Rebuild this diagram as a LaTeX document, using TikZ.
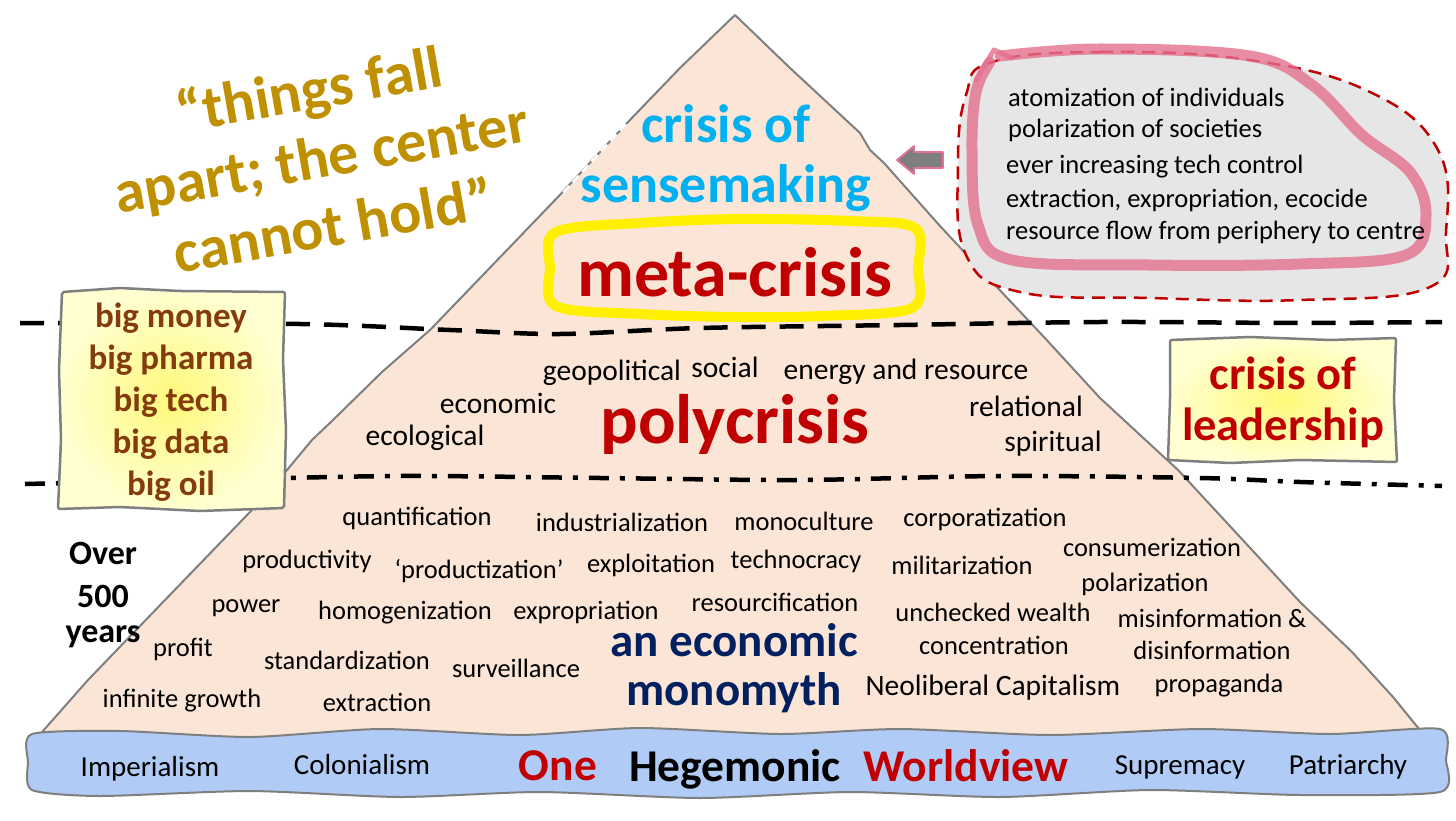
\documentclass[tikz,border=0pt]{standalone}
\usepackage{fontspec}
\setmainfont{Carlito}
\definecolor{gold}{HTML}{BF9000}
\definecolor{cyanT}{HTML}{00B0F0}
\definecolor{dred}{HTML}{C00000}
\definecolor{navy}{HTML}{002060}
\definecolor{brownT}{HTML}{843C0C}
\definecolor{peach}{HTML}{FBE5D6}
\definecolor{bandblue}{HTML}{B0CCF6}
\definecolor{cgray}{HTML}{E7E6E6}
\definecolor{pinkS}{HTML}{E4718F}
\definecolor{outl}{HTML}{7F7F7F}
\definecolor{yelIn}{HTML}{FFF97A}
\definecolor{yelOut}{HTML}{FFFFD2}
\definecolor{hl}{HTML}{FFF000}
\begin{document}
\begin{tikzpicture}[x=1pt,y=-1pt,
  wd/.style={font=\fontsize{26.5}{30}\selectfont, inner sep=0},
  pw/.style={font=\fontsize{29.5}{32}\selectfont, inner sep=0},
  cl/.style={font=\fontsize{26.5}{28}\selectfont, anchor=west, inner sep=0},
  bw/.style={font=\fontsize{29}{32}\selectfont, inner sep=0, anchor=base},
  bigbox/.style={font=\bfseries\fontsize{35}{38}\selectfont, text=brownT, inner sep=0},
  lead/.style={font=\bfseries\fontsize{46.5}{48}\selectfont, text=dred, inner sep=0},
  yrs/.style={font=\bfseries\fontsize{34}{38}\selectfont, inner sep=0},
  hw/.style={font=\bfseries\fontsize{45.5}{50}\selectfont, inner sep=0, anchor=base},
  eco/.style={font=\bfseries\fontsize{47}{50}\selectfont, text=navy, inner sep=0},
  sense/.style={font=\bfseries\fontsize{54}{58}\selectfont, text=cyanT, inner sep=0},
  huge/.style={font=\bfseries\fontsize{70}{74}\selectfont, text=dred, inner sep=0},
  sepline/.style={line width=4.5pt, black},
  edge/.style={draw=outl, line width=2pt, line join=round},
  yellowbox/.style={draw=outl, line width=2.5pt, inner color=yelIn, outer color=yelOut, rounded corners=2pt}
]
\useasboundingbox (0,0) rectangle (1456,821);
\fill[white] (0,0) rectangle (1456,821);

% pyramid
\filldraw[edge, fill=peach] (735,15) -- (790,68) -- (860,133) -- (870,150) -- (884,163)
  -- (940,226) -- (995,285) -- (1043,336) -- (1100,398) -- (1178,470) -- (1240,537)
  -- (1300,602) -- (1352,652) -- (1393,697) -- (1428,740) -- (35,740)
  -- (88,680) -- (165,600) -- (250,512) -- (287,470) -- (312,440) -- (333,420)
  -- (382,372) -- (430,330) -- (482,276) -- (557,198) -- (600,152) -- (628,122)
  -- (680,68) -- cycle;
\draw[white, line width=2.5pt, dash pattern=on 9pt off 5pt] (626,124) -- (560,196);

% separator lines
\draw[sepline, dash pattern=on 24pt off 14pt]
  plot[smooth] coordinates {(20,323) (300,324) (450,330) (560,334) (700,328) (900,325) (1100,322) (1300,323) (1442,322)};
\draw[sepline, dash pattern=on 20pt off 11pt on 5pt off 11pt]
  plot[smooth] coordinates {(25,484) (200,480) (400,476) (600,478) (800,480) (1000,476) (1200,478) (1300,482) (1442,486)};

% left box
\shade[yellowbox] (62,292) -- (120,288) -- (180,291) -- (285,292) -- (283,360) -- (286,430) -- (284,508)
  -- (200,511) -- (120,507) -- (58,509) -- (61,440) -- (59,370) -- cycle;
\node[bigbox] (bm) at (171,318) {big money};
\node[bigbox] (bp) at (171,360) {big pharma};
\node[bigbox] (bt) at (171,402) {big tech};
\node[bigbox] (bd) at (171,444) {big data};
\node[bigbox] (bo) at (171,486) {big oil};

% right box
\shade[yellowbox] (1170,340) -- (1250,337) -- (1330,340) -- (1396,338) -- (1394,400) -- (1397,462)
  -- (1300,460) -- (1230,463) -- (1168,460) -- (1170,400) -- cycle;
\node[lead] (lc) at (1283,373) {crisis of};
\node[lead] (ll) at (1283,428) {leadership};

% callout
\draw[dred, line width=2.5pt, fill=cgray, dash pattern=on 13pt off 8pt]
  plot[smooth cycle, tension=0.7] coordinates {(992,62) (1100,52) (1250,60) (1370,92) (1438,150) (1446,232) (1430,287) (1300,300) (1150,298) (1020,292) (966,255) (958,165) (966,95)};
\draw[pinkS, line width=11pt, opacity=0.8, line cap=round, line join=round]
  plot[smooth, tension=0.6] coordinates {(1000,56) (1100,49) (1250,56) (1312,85) (1362,135) (1410,172) (1426,215) (1406,255) (1300,264) (1150,265) (1012,260) (978,225) (972,150) (976,92) (990,62)};
\draw[pinkS, line width=5pt, opacity=0.8, line cap=round, line join=round] (976,80) -- (994,50) -- (1012,58);
\node[cl] (c1) at (1008,97) {atomization of individuals};
\node[cl] (c2) at (1008,130) {polarization of societies};
\node[cl] (c3) at (1006,167) {ever increasing tech control};
\node[cl] (c4) at (1006,200) {extraction, expropriation, ecocide};
\node[cl] (c5) at (1006,232) {resource flow from periphery to centre};
\filldraw[fill=outl, draw=pinkS, line width=1.8pt, line join=round]
  (897,160) -- (914,146) -- (914,152) -- (943,152) -- (943,168) -- (914,168) -- (914,174) -- cycle;

% quote
\node[font=\bfseries\fontsize{60}{69}\selectfont, text=gold, align=center, rotate=10, inner sep=0] (quote) at (321,156)
  {“things fall\\apart; the center\\cannot hold”};

% top of pyramid
\node[sense] (cs1) at (726,124) {crisis of};
\node[sense] (cs2) at (726,188) {sensemaking};
\draw[hl, line width=10pt] plot[smooth cycle, tension=0.55] coordinates {(556,232) (640,223) (740,219) (850,221) (915,228) (918,268) (912,308) (820,316) (735,317) (640,314) (556,306) (550,268)};
\node[huge] (meta) at (735,272) {meta-crisis};

% polycrisis layer
\node[huge] (poly) at (735,424) {polycrisis};
\node[pw] (geo) at (612,373) {geopolitical};
\node[pw] (soc) at (725,367) {social};
\node[pw] (ene) at (906,372) {energy and resource};
\node[pw] (ecn) at (498,403) {economic};
\node[pw] (rel) at (1026,406) {relational};
\node[pw] (ecl) at (425,438) {ecological};
\node[pw] (spi) at (1053,444) {spiritual};

% bottom layer
\node[wd] (w1) at (417,518) {quantification};
\node[wd] (w2) at (622,522) {industrialization};
\node[wd] (w3) at (804,521) {monoculture};
\node[wd] (w4) at (985,519) {corporatization};
\node[wd] (w5) at (1152,547) {consumerization};
\node[wd] (w6) at (307,561) {productivity};
\node[wd] (w7) at (479,571) {‘productization’};
\node[wd] (w8) at (651,565) {exploitation};
\node[wd] (w9) at (796,561) {technocracy};
\node[wd] (w10) at (962,565) {militarization};
\node[wd] (w11) at (1145,584) {polarization};
\node[wd] (w12) at (246,608) {power};
\node[wd] (w13) at (405,613) {homogenization};
\node[wd] (w14) at (586,612) {expropriation};
\node[wd] (w15) at (775,602) {resourcification};
\node[wd] (w16) at (993,612) {unchecked wealth};
\node[wd] (w17) at (994,645) {concentration};
\node[wd] (w18) at (1212,618) {misinformation \&};
\node[wd] (w19) at (1212,650) {disinformation};
\node[wd] (w20) at (183,649) {profit};
\node[wd] (w21) at (347,660) {standardization};
\node[wd] (w22) at (516,668) {surveillance};
\node[wd, font=\fontsize{29.5}{32}\selectfont] (w23) at (993,688) {Neoliberal Capitalism};
\node[wd] (w24) at (1219,686) {propaganda};
\node[wd] (w25) at (182,701) {infinite growth};
\node[wd] (w26) at (377,702) {extraction};
\node[eco] (an) at (734,640) {an economic};
\node[eco] (mono) at (734,693) {monomyth};

\node[yrs] (y1) at (103,553) {Over};
\node[yrs] (y2) at (103,596) {500};
\node[yrs] (y3) at (103,637) {years};

% band
\filldraw[edge, fill=bandblue] plot[smooth cycle, tension=0.4] coordinates {
  (32,734) (120,731) (250,737) (380,729) (520,735) (640,728) (780,734) (900,729) (1050,735) (1200,729) (1330,734) (1440,729)
  (1446,760) (1440,792) (1300,795) (1150,790) (1000,797) (850,792) (700,798) (540,792) (400,797) (250,791) (100,796) (32,790) (28,762)};
\node[bw] (b1) at (150,776) {Imperialism};
\node[bw] (b2) at (362,774) {Colonialism};
\node[hw, text=dred] (b3) at (558,780) {One};
\node[hw] (b4) at (735,781) {Hegemonic};
\node[hw, text=dred] (b5) at (966,781) {Worldview};
\node[bw] (b6) at (1180,774) {Supremacy};
\node[bw] (b7) at (1348,774) {Patriarchy};
\end{tikzpicture}
\end{document}
